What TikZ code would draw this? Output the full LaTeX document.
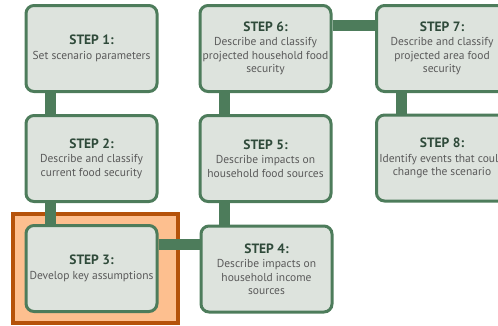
\documentclass[tikz,border=0pt]{standalone}
\usepackage{fontspec}
\setmainfont{PT Sans}
\usetikzlibrary{backgrounds}

\definecolor{stepgreen}{HTML}{4D7C5B}
\definecolor{stepfill}{HTML}{DDE3DD}
\definecolor{stepdark}{HTML}{2F4A3A}
\definecolor{steptext}{HTML}{5A5A5A}
\definecolor{hiline}{HTML}{B5520A}
\definecolor{hifill}{HTML}{FDBF8F}

\tikzset{
  stepbox/.style={draw=stepgreen, line width=3pt, fill=stepfill, rounded corners=8pt,
    minimum width=131pt, minimum height=86pt, inner sep=2pt, align=center,
    text=steptext, font=\fontsize{11.5}{13.5}\selectfont},
  link/.style={draw=stepgreen, line width=11pt},
  hilite/.style={draw=hiline, line width=4pt, fill=hifill}
}
\newcommand{\stephead}[1]{{\color{stepdark}\fontsize{13.5}{15}\selectfont\bfseries #1}\\[1pt]}

\begin{document}
\begin{tikzpicture}[x=1pt, y=-1pt]
    \useasboundingbox (0,0) rectangle (498,325);

    % Step boxes, column by column
    \node[stepbox] (s1) at (91.5,48.5) {\stephead{STEP 1:}Set scenario parameters};
    \node[stepbox] (s2) at (91.5,158.5) {\stephead{STEP 2:}Describe and classify\\current food security};
    \node[stepbox] (s3) at (91.5,268.5) {\stephead{STEP 3:}Develop key assumptions};

    \node[stepbox] (s6) at (265.5,48.5) {\stephead{STEP 6:}Describe and classify\\projected household food\\security};
    \node[stepbox] (s5) at (265.5,158.5) {\stephead{STEP 5:}Describe impacts on\\household food sources};
    \node[stepbox] (s4) at (266.5,269) {\stephead{STEP 4:}Describe impacts on\\household income\\sources};

    \node[stepbox] (s7) at (442,48.5) {\stephead{STEP 7:}Describe and classify\\projected area food\\security};
    \node[stepbox] (s8) at (442,158) {\stephead{STEP 8:}Identify events that could\\change the scenario};

    % Highlight behind step 3
    \begin{scope}[on background layer]
        \draw[hilite] ([shift={(-11.5,-10.5)}]s3.north west) rectangle ([shift={(19.5,10)}]s3.south east);
    \end{scope}

    % Connectors
    \draw[link] ([xshift=26pt]s1.south west) -- ([xshift=26pt]s2.north west);
    \draw[link] ([xshift=26pt]s2.south west) -- ([xshift=26pt]s3.north west);
    \draw[link] ([yshift=-20pt]s3.north east) -- ([yshift=-20pt]s3.north east -| s4.west);
    \draw[link] ([xshift=26pt]s5.south west) -- ([xshift=26pt]s5.south west |- s4.north);
    \draw[link] ([xshift=26pt]s6.south west) -- ([xshift=26pt]s5.north west);
    \draw[link] ([yshift=-21pt]s6.north east) -- ([yshift=-21pt]s7.north west);
    \draw[link] ([xshift=26pt]s7.south west) -- ([xshift=26pt]s8.north west);
\end{tikzpicture}
\end{document}
